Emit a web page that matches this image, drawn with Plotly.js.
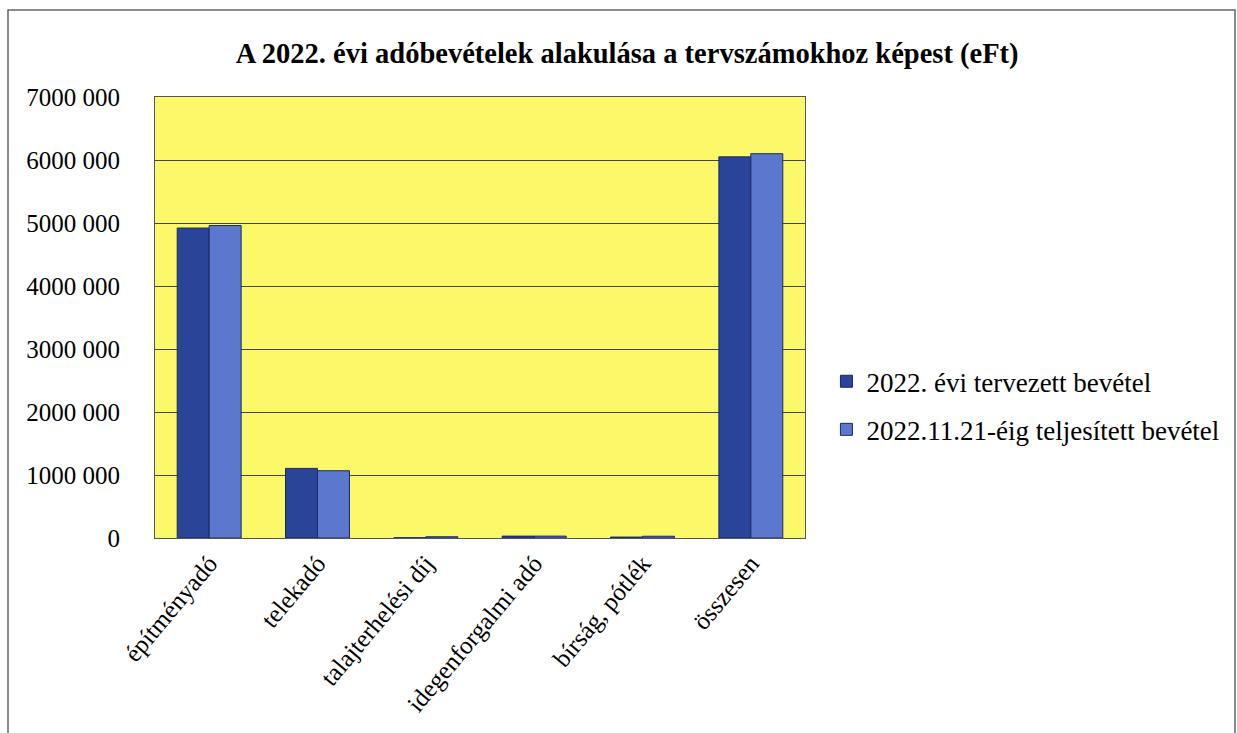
<!DOCTYPE html>
<html>
<head>
<meta charset="utf-8">
<script src="https://cdn.plot.ly/plotly-3.0.1.min.js"></script>
<style>
html,body{margin:0;padding:0;background:#fff;}
#chart{width:1237px;height:733px;}
</style>
</head>
<body>
<div id="chart"></div>
<script>
const categories = ["építményadó", "telekadó", "talajterhelési díj", "idegenforgalmi adó", "bírság, pótlék", "összesen"];
const seriesNames = ["2022. évi tervezett bevétel", "2022.11.21-éig teljesített bevétel"];
const planned = [4920000, 1105000, 5000, 30000, 15000, 6050000];
const actual = [4960000, 1068000, 20000, 30000, 28000, 6100000];
const tickValues = [0, 1000000, 2000000, 3000000, 4000000, 5000000, 6000000, 7000000];
const tickLabels = ["0", "1000 000", "2000 000", "3000 000", "4000 000", "5000 000", "6000 000", "7000 000"];

const font = "'Liberation Serif', 'Times New Roman', serif";

const traces = [
  {type: "bar", name: seriesNames[0], x: categories, y: planned, legendgroup: "a",
   marker: {color: "#2A4597", line: {color: "#1a2a60", width: 1}}},
  {type: "bar", name: seriesNames[1], x: categories, y: actual, legendgroup: "b",
   marker: {color: "#5B78CE", line: {color: "#1a2a60", width: 1}}}
];

const layout = {
  width: 1237, height: 733,
  margin: {l: 155, r: 432, t: 97, b: 195, autoexpand: false},
  paper_bgcolor: "#ffffff",
  plot_bgcolor: "#FBF96A",
  font: {family: font, size: 25, color: "#000"},
  title: {text: "<b>A 2022. évi adóbevételek alakulása a tervszámokhoz képest (eFt)</b>",
          font: {family: font, size: 28.5, color: "#000"},
          xref: "container", x: 0.507, xanchor: "center",
          yref: "container", y: 0.928, yanchor: "middle"},
  barmode: "group",
  bargap: 0.41,
  bargroupgap: 0,
  showlegend: true,
  legend: {x: 1.033, xanchor: "left", y: 0.30, yanchor: "middle",
           font: {family: font, size: 27, color: "#000"},
           bgcolor: "rgba(0,0,0,0)", tracegroupgap: 10, itemwidth: 30},
  xaxis: {type: "category", tickangle: -50, showline: true, linecolor: "#555", linewidth: 1,
          mirror: true, ticks: "", showgrid: false,
          tickfont: {family: font, size: 25, color: "#000"}},
  yaxis: {range: [0, 7000000], tickvals: tickValues, ticktext: tickLabels,
          showgrid: true, gridcolor: "#444", gridwidth: 1,
          showline: true, linecolor: "#555", linewidth: 1, mirror: true,
          ticks: "", ticklabelstandoff: 29,
          tickfont: {family: font, size: 25, color: "#000"}, zeroline: false},
  shapes: [
    {type: "rect", xref: "paper", yref: "paper",
     x0: (8 - 155) / 650, x1: (1235 - 155) / 650,
     y0: (538 - 740) / 441, y1: (538 - 10) / 441,
     line: {color: "#666", width: 1.5}, fillcolor: "rgba(0,0,0,0)", layer: "below"}
  ]
};

Plotly.newPlot("chart", traces, layout, {displayModeBar: false, staticPlot: true});
</script>
</body>
</html>
